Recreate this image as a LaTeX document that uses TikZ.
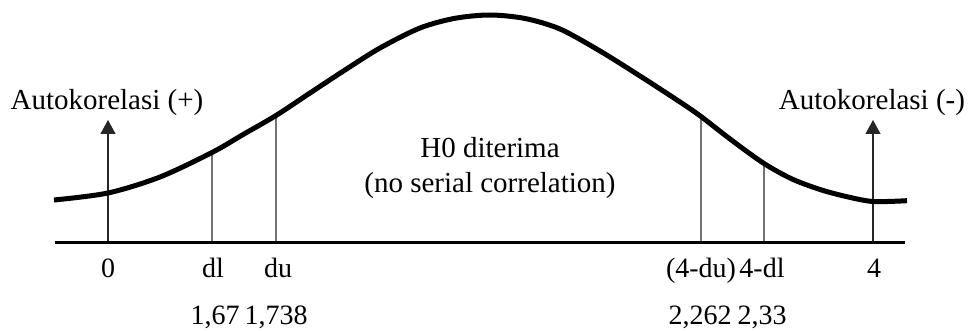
\documentclass[tikz,border=0pt]{standalone}
\usepackage{fontspec}
\setmainfont{Liberation Serif}
\usetikzlibrary{arrows.meta,intersections}
\begin{document}
\begin{tikzpicture}[x=1pt,y=-1pt,
  lbl/.style={font=\fontsize{28}{34}\selectfont, inner sep=0pt, anchor=base},
  toplbl/.style={font=\fontsize{29}{35}\selectfont, inner sep=0pt, anchor=base},
  tickline/.style={line width=1.3pt, draw=black!85},
  arr/.style={line width=1.3pt, draw=black!85, -{Triangle[length=14pt,width=15pt]}},
  axisline/.style={line width=2.4pt},
  curveline/.style={line width=5pt, line cap=butt},
  ]
\useasboundingbox (0,0) rectangle (970,331);

\def\curvepts{(54,200) (108,193) (160,177) (212,152.5) (244,134) (276,115.5)
  (310,93) (345,70) (380,48) (420,28) (455,18.3) (490,15) (525,18.5)
  (560,29) (600,51) (640,76) (680,102) (701,116.5) (732,140.5) (764,163.5)
  (792,179) (820,189.5) (846,196.5) (873,201.5) (907,200.7)}

% axis
\coordinate (axL) at (55,242.5);
\coordinate (axR) at (905,242.5);

% curve path (for intersections)
\path[name path=curve] plot[smooth, tension=0.5] coordinates {\curvepts};

% foot points on axis
\coordinate (f0) at (108,242.5);
\coordinate (fdl) at (212,242.5);
\coordinate (fdu) at (276,242.5);
\coordinate (fdu4) at (701,242.5);
\coordinate (fdl4) at (764,242.5);
\coordinate (f4) at (873,242.5);

% arrow tips
\coordinate (t0) at (108,120);
\coordinate (t4) at (873,120);

% intersections for the inner lines
\path[name path=vdl] (fdl) -- (212,0);
\path[name path=vdu] (fdu) -- (276,0);
\path[name path=vdu4] (fdu4) -- (701,0);
\path[name path=vdl4] (fdl4) -- (764,0);
\path[name intersections={of=curve and vdl, by=pdl}];
\path[name intersections={of=curve and vdu, by=pdu}];
\path[name intersections={of=curve and vdu4, by=pdu4}];
\path[name intersections={of=curve and vdl4, by=pdl4}];

\draw[tickline] (fdl) -- (pdl);
\draw[tickline] (fdu) -- (pdu);
\draw[tickline] (fdu4) -- (pdu4);
\draw[tickline] (fdl4) -- (pdl4);
\draw[arr] (f0) -- (t0);
\draw[arr] (f4) -- (t4);

\draw[curveline] plot[smooth, tension=0.5] coordinates {\curvepts};

\draw[axisline] (axL) -- (axR);

% labels
\node[toplbl] (lplus) at (107,110) {Autokorelasi (+)};
\node[toplbl] (lminus) at (872,110) {Autokorelasi (-)};
\node[toplbl] (h0a) at (490,158) {H0 diterima};
\node[toplbl] (h0b) at (490,193) {(no serial correlation)};

\node[lbl] (n0) at (108,278) {0};
\node[lbl] (ndl) at (213,278) {dl};
\node[lbl] (ndu) at (278,278) {du};
\node[lbl] (ndu4) at (701,278) {(4-du)};
\node[lbl] (ndl4) at (762,278) {4-dl};
\node[lbl] (n4) at (874,278) {4};

\node[lbl] (v1) at (215,325) {1,67};
\node[lbl] (v2) at (276,325) {1,738};
\node[lbl] (v3) at (700,325) {2,262};
\node[lbl] (v4) at (762,325) {2,33};
\end{tikzpicture}
\end{document}
